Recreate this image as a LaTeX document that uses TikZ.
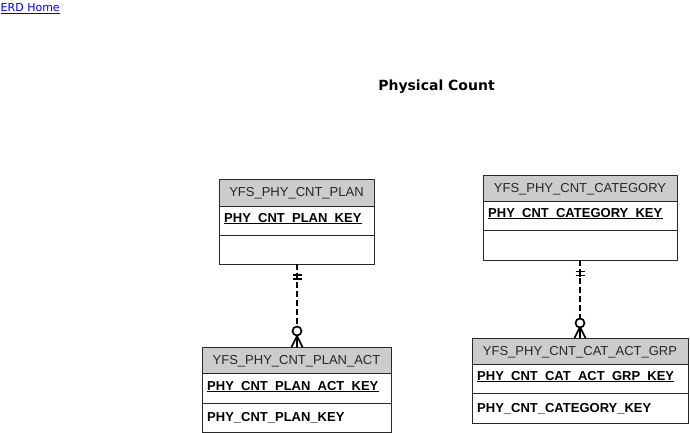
\documentclass[tikz,border=0pt]{standalone}
\usepackage{fontspec}
\setmainfont{Liberation Sans}
\newfontfamily\titlefont{DejaVu Sans}
\usetikzlibrary{positioning}

\definecolor{headgray}{RGB}{204,204,204}
\definecolor{linkblue}{RGB}{0,0,238}
\definecolor{boxline}{RGB}{40,40,40}

\tikzset{
  tblhead/.style={draw=boxline, fill=headgray, line width=1pt, inner sep=0pt,
    outer sep=0pt, anchor=north west},
  tblrow/.style={draw=boxline, fill=white, line width=1pt, inner sep=0pt,
    outer sep=0pt, anchor=north west},
  headtext/.style={inner sep=0pt, anchor=base, text=black!85,
    font=\fontsize{13}{15}\selectfont},
  coltext/.style={inner sep=0pt, anchor=base west,
    font=\bfseries\fontsize{13}{15}\selectfont},
  keyline/.style={line width=0.9pt},
  rel/.style={line width=2pt, dash pattern=on 6pt off 3pt},
  relmark/.style={line width=1.7pt}
}

\begin{document}
\begin{tikzpicture}[x=1pt,y=-1pt]

  \useasboundingbox (0,0) rectangle (690,433);

  % odkaz a nadpis
  \node[inner sep=0pt, anchor=base west, text=linkblue,
        font=\titlefont\fontsize{11}{13}\selectfont] (home) at (0.5,11.5) {ERD Home};
  \draw[linkblue, line width=0.8pt] ([yshift=-2pt]home.base west)--([yshift=-2pt]home.base east);

  \node[anchor=base, inner sep=0pt, font=\titlefont\bfseries\fontsize{14}{16}\selectfont]
       (title) at (436.5,91) {Physical Count};

  % tabulka YFS_PHY_CNT_PLAN
  \node[tblhead, minimum width=155pt, minimum height=27pt] (planH) at (219,179) {};
  \node[tblrow, minimum width=155pt, minimum height=29pt] (planK) at (planH.south west) {};
  \node[tblrow, minimum width=155pt, minimum height=29pt] (planA) at (planK.south west) {};
  \node[headtext] (planHt) at ([yshift=-17.5pt]planH.north) {YFS\_PHY\_CNT\_PLAN};
  \node[coltext] (planKt) at ([xshift=5pt,yshift=-16.5pt]planK.north west)
       {PHY\_CNT\_PLAN\_KEY};

  % tabulka YFS_PHY_CNT_CATEGORY
  \node[tblhead, minimum width=194pt, minimum height=26pt] (catH) at (483,175) {};
  \node[tblrow, minimum width=194pt, minimum height=29pt] (catK) at (catH.south west) {};
  \node[tblrow, minimum width=194pt, minimum height=30pt] (catA) at (catK.south west) {};
  \node[headtext] (catHt) at ([yshift=-17.5pt]catH.north) {YFS\_PHY\_CNT\_CATEGORY};
  \node[coltext] (catKt) at ([xshift=5pt,yshift=-16.5pt]catK.north west)
       {PHY\_CNT\_CATEGORY\_KEY};

  % tabulka YFS_PHY_CNT_PLAN_ACT
  \node[tblhead, minimum width=189pt, minimum height=26pt] (actH) at (202,347) {};
  \node[tblrow, minimum width=189pt, minimum height=30pt] (actK) at (actH.south west) {};
  \node[tblrow, minimum width=189pt, minimum height=29pt] (actA) at (actK.south west) {};
  \node[headtext] (actHt) at ([yshift=-17.5pt]actH.north) {YFS\_PHY\_CNT\_PLAN\_ACT};
  \node[coltext] (actKt) at ([xshift=5pt,yshift=-17pt]actK.north west)
       {PHY\_CNT\_PLAN\_ACT\_KEY};
  \node[coltext] (actAt) at ([xshift=5pt,yshift=-18.5pt]actA.north west)
       {PHY\_CNT\_PLAN\_KEY};

  % tabulka YFS_PHY_CNT_CAT_ACT_GRP
  \node[tblhead, minimum width=216pt, minimum height=26pt] (grpH) at (472,338) {};
  \node[tblrow, minimum width=216pt, minimum height=29pt] (grpK) at (grpH.south west) {};
  \node[tblrow, minimum width=216pt, minimum height=30pt] (grpA) at (grpK.south west) {};
  \node[headtext] (grpHt) at ([yshift=-17.5pt]grpH.north) {YFS\_PHY\_CNT\_CAT\_ACT\_GRP};
  \node[coltext] (grpKt) at ([xshift=5pt,yshift=-16.5pt]grpK.north west)
       {PHY\_CNT\_CAT\_ACT\_GRP\_KEY};
  \node[coltext] (grpAt) at ([xshift=5pt,yshift=-19pt]grpA.north west)
       {PHY\_CNT\_CATEGORY\_KEY};

  % podtrzeni klicu
  \draw[keyline] ([yshift=-1.2pt]planKt.base west)--([yshift=-1.2pt]planKt.base east);
  \draw[keyline] ([yshift=-1.2pt]catKt.base west)--([yshift=-1.2pt]catKt.base east);
  \draw[keyline] ([yshift=-1.2pt]actKt.base west)--([yshift=-1.2pt]actKt.base east);
  \draw[keyline] ([yshift=-1.2pt]grpKt.base west)--([yshift=-1.2pt]grpKt.base east);

  % vztah PLAN -- PLAN_ACT
  \coordinate (r1s) at ([xshift=0.5pt]planA.south -| actH.north);
  \coordinate (r1e) at ([xshift=0.5pt]actH.north);
  \coordinate (r1c) at ([yshift=16pt]r1e);
  \draw[rel] (r1s)--([yshift=4.5pt]r1c);
  \draw[relmark] ([xshift=-4.5pt,yshift=-11pt]r1s)--([xshift=4.5pt,yshift=-11pt]r1s);
  \draw[relmark] ([xshift=-4.5pt,yshift=-15pt]r1s)--([xshift=4.5pt,yshift=-15pt]r1s);
  \draw[relmark] ([yshift=-10pt]r1s)--([yshift=-16pt]r1s);
  \draw[relmark, fill=white] (r1c) circle (4.5pt);
  \draw[relmark] ([yshift=11pt]r1e)--([xshift=-5.5pt]r1e)
                 ([yshift=11pt]r1e)--(r1e)
                 ([yshift=11pt]r1e)--([xshift=5.5pt]r1e);

  % vztah CATEGORY -- CAT_ACT_GRP
  \coordinate (r2s) at (catA.south -| grpH.north);
  \coordinate (r2e) at (grpH.north);
  \coordinate (r2c) at ([yshift=15pt]r2e);
  \draw[rel] (r2s)--([yshift=4.5pt]r2c);
  \draw[relmark] ([xshift=-4.5pt,yshift=-11.5pt]r2s)--([xshift=4.5pt,yshift=-11.5pt]r2s);
  \draw[relmark] ([xshift=-4.5pt,yshift=-15.5pt]r2s)--([xshift=4.5pt,yshift=-15.5pt]r2s);
  \draw[relmark] ([yshift=-10.5pt]r2s)--([yshift=-16.5pt]r2s);
  \draw[relmark, fill=white] (r2c) circle (4.5pt);
  \draw[relmark] ([yshift=11pt]r2e)--([xshift=-5.5pt]r2e)
                 ([yshift=11pt]r2e)--(r2e)
                 ([yshift=11pt]r2e)--([xshift=5.5pt]r2e);

\end{tikzpicture}
\end{document}
